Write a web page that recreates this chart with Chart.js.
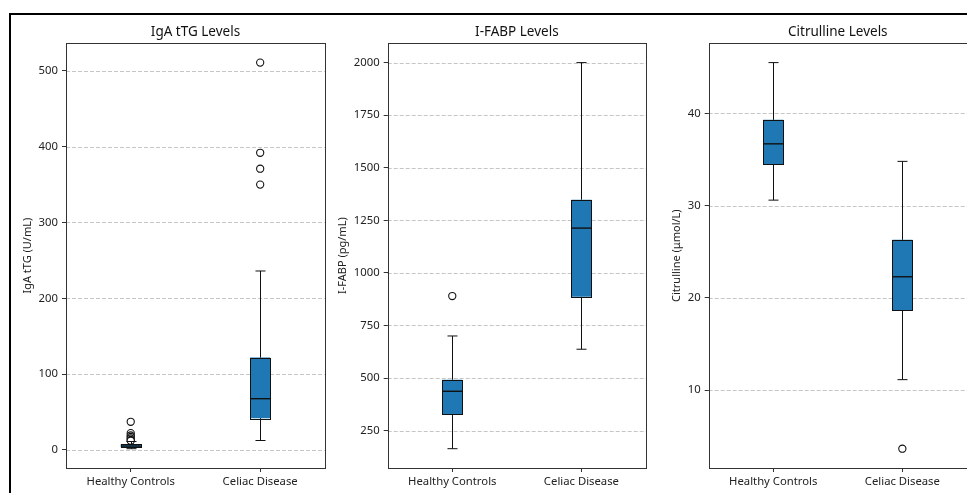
<!DOCTYPE html>
<html>
<head>
<meta charset="utf-8">
<script src="https://cdn.jsdelivr.net/npm/chart.js@4.4.0/dist/chart.umd.min.js"></script>
<style>
  html, body { margin: 0; padding: 0; background: #fff; width: 967px; height: 493px; overflow: hidden; }
  #frame { position: absolute; left: 9px; top: 13px; width: 1000px; height: 520px; border: 2px solid #000; box-sizing: border-box; }
  canvas { position: absolute; }
</style>
</head>
<body>
<div id="frame"></div>
<canvas id="c-iga" width="320" height="479" style="left:10px;top:14px"></canvas>
<canvas id="c-fabp" width="322" height="479" style="left:330px;top:14px"></canvas>
<canvas id="c-cit" width="320" height="479" style="left:652px;top:14px"></canvas>
<script>
// Box plot stats, per group (Healthy Controls, Celiac Disease).
var GROUPS = ['Healthy Controls', 'Celiac Disease'];

var IGA_LO  = [1.5, 12.3];
var IGA_Q1  = [3.5, 41.8];
var IGA_MED = [5.0, 67.5];
var IGA_Q3  = [7.5, 121.7];
var IGA_HI  = [11, 236];
var IGA_OUT = [[37, 22, 19, 17, 15, 13, 12], [511, 392, 371, 350]];
var IGA_TICKS = [0, 100, 200, 300, 400, 500];

var FABP_LO  = [164, 637];
var FABP_Q1  = [329, 886];
var FABP_MED = [437, 1213];
var FABP_Q3  = [492, 1348];
var FABP_HI  = [700, 2000];
var FABP_OUT = [[890], []];
var FABP_TICKS = [250, 500, 750, 1000, 1250, 1500, 1750, 2000];

var CIT_LO  = [30.6, 11.15];
var CIT_Q1  = [34.5, 18.7];
var CIT_MED = [36.7, 22.3];
var CIT_Q3  = [39.3, 26.3];
var CIT_HI  = [45.5, 34.8];
var CIT_OUT = [[], [3.67]];
var CIT_TICKS = [10, 20, 30, 40];

Chart.defaults.font.family = '"Noto Sans", "Open Sans", sans-serif';
Chart.defaults.font.size = 11;
Chart.defaults.color = '#222';

var boxParts = {
  id: 'boxParts',
  beforeDatasetsDraw: function(chart, args, o) {
    var ctx = chart.ctx, a = chart.chartArea, y = chart.scales.y;
    ctx.save();
    ctx.strokeStyle = '#b8b8b8';
    ctx.lineWidth = 0.8;
    ctx.setLineDash([4, 2]);
    o.ticks.forEach(function(v) {
      var py = Math.round(y.getPixelForValue(v)) + 0.5;
      ctx.beginPath(); ctx.moveTo(a.left, py); ctx.lineTo(a.right, py); ctx.stroke();
    });
    ctx.restore();
  },
  afterDatasetsDraw: function(chart, args, o) {
    var ctx = chart.ctx, a = chart.chartArea, y = chart.scales.y, x = chart.scales.x;
    var bars = chart.getDatasetMeta(0).data;
    ctx.save();
    ctx.strokeStyle = '#111';
    ctx.lineWidth = 1;
    GROUPS.forEach(function(g, i) {
      var cx = Math.round(x.getPixelForValue(i)) + 0.5;
      var w = bars[i].width;
      var pLo = y.getPixelForValue(o.lo[i]), pQ1 = y.getPixelForValue(o.q1[i]);
      var pQ3 = y.getPixelForValue(o.q3[i]), pHi = y.getPixelForValue(o.hi[i]);
      var pMed = y.getPixelForValue(o.med[i]);
      ctx.beginPath();
      ctx.moveTo(cx, pQ1); ctx.lineTo(cx, pLo);
      ctx.moveTo(cx, pQ3); ctx.lineTo(cx, pHi);
      ctx.moveTo(cx - w / 4, pLo); ctx.lineTo(cx + w / 4, pLo);
      ctx.moveTo(cx - w / 4, pHi); ctx.lineTo(cx + w / 4, pHi);
      ctx.stroke();
      // box edge
      ctx.strokeRect(Math.round(cx - w / 2) + 0.5, Math.round(pQ3) + 0.5,
                     Math.round(w), Math.round(pQ1 - pQ3));
      ctx.lineWidth = 1.4;
      ctx.beginPath();
      ctx.moveTo(cx - w / 2, pMed); ctx.lineTo(cx + w / 2, pMed);
      ctx.stroke();
      ctx.lineWidth = 1;
    });
    // frame
    ctx.strokeStyle = '#333';
    ctx.strokeRect(Math.round(a.left) + 0.5, Math.round(a.top) + 0.5,
                   Math.round(a.right - a.left), Math.round(a.bottom - a.top));
    // title
    ctx.fillStyle = '#111';
    ctx.font = '13.5px "Noto Sans", sans-serif';
    ctx.textAlign = 'center';
    ctx.textBaseline = 'middle';
    ctx.fillText(o.title, (a.left + a.right) / 2, a.top - 11);
    // y label, placed past the widest tick label like matplotlib does
    ctx.font = '11px "Noto Sans", sans-serif';
    var maxW = 0;
    o.ticks.forEach(function(v) { maxW = Math.max(maxW, ctx.measureText(String(v)).width); });
    var lx = a.left - 4 - 4 - maxW - 6 - 5.5;
    ctx.translate(lx, (a.top + a.bottom) / 2);
    ctx.rotate(-Math.PI / 2);
    ctx.fillStyle = '#222';
    ctx.fillText(o.yLabel, 0, 0);
    ctx.restore();
  }
};

function makePanel(id, cfg) {
  var all = cfg.lo.concat(cfg.hi);
  cfg.out.forEach(function(arr) { all = all.concat(arr); });
  var dMin = Math.min.apply(null, all), dMax = Math.max.apply(null, all);
  var pad = (dMax - dMin) * 0.05;

  var outPts = [];
  cfg.out.forEach(function(arr, i) {
    arr.forEach(function(v) { outPts.push({ x: GROUPS[i], y: v }); });
  });

  new Chart(document.getElementById(id), {
    data: {
      labels: GROUPS,
      datasets: [{
        type: 'bar',
        data: GROUPS.map(function(g, i) { return [cfg.q1[i], cfg.q3[i]]; }),
        backgroundColor: '#1f77b4',
        borderWidth: 0,
        barPercentage: 0.155,
        categoryPercentage: 1,
        order: 2
      }, {
        type: 'line',
        data: outPts,
        showLine: false,
        pointRadius: 3.6,
        pointBackgroundColor: '#fff',
        pointBorderColor: '#111',
        pointBorderWidth: 1.1,
        order: 1
      }]
    },
    options: {
      responsive: false,
      animation: false,
      layout: { padding: { top: 29.3, right: cfg.padRight, left: 0, bottom: 0 } },
      plugins: {
        legend: { display: false },
        tooltip: { enabled: false },
        boxParts: {
          lo: cfg.lo, q1: cfg.q1, med: cfg.med, q3: cfg.q3, hi: cfg.hi,
          ticks: cfg.ticks, title: cfg.title, yLabel: cfg.yLabel
        }
      },
      scales: {
        x: {
          offset: true,
          grid: { display: true, drawOnChartArea: false, drawTicks: true, tickLength: 4, offset: false, color: '#333' },
          border: { display: false },
          ticks: { padding: 3, color: '#222', font: { size: 11.3 }, maxRotation: 0, autoSkip: false },
          afterFit: function(s) { s.height = 25; }
        },
        y: {
          min: dMin - pad,
          max: dMax + pad,
          grid: { display: true, drawOnChartArea: false, drawTicks: true, tickLength: 4, color: '#333' },
          border: { display: false },
          ticks: { padding: 4, color: '#222', font: { size: 11.3 }, callback: function(v) { return String(v); } },
          afterBuildTicks: function(s) { s.ticks = cfg.ticks.map(function(v) { return { value: v }; }); },
          afterFit: function(s) { s.width = cfg.axisW; }
        }
      }
    },
    plugins: [boxParts]
  });
}

makePanel('c-iga', {
  lo: IGA_LO, q1: IGA_Q1, med: IGA_MED, q3: IGA_Q3, hi: IGA_HI, out: IGA_OUT,
  ticks: IGA_TICKS, title: 'IgA tTG Levels', yLabel: 'IgA tTG (U/mL)', axisW: 56, padRight: 5
});
makePanel('c-fabp', {
  lo: FABP_LO, q1: FABP_Q1, med: FABP_MED, q3: FABP_Q3, hi: FABP_HI, out: FABP_OUT,
  ticks: FABP_TICKS, title: 'I-FABP Levels', yLabel: 'I-FABP (pg/mL)', axisW: 57.7, padRight: 6
});
makePanel('c-cit', {
  lo: CIT_LO, q1: CIT_Q1, med: CIT_MED, q3: CIT_Q3, hi: CIT_HI, out: CIT_OUT,
  ticks: CIT_TICKS, title: 'Citrulline Levels', yLabel: 'Citrulline (\u03bcmol/L)', axisW: 56.7, padRight: 4.3
});
</script>
</body>
</html>
